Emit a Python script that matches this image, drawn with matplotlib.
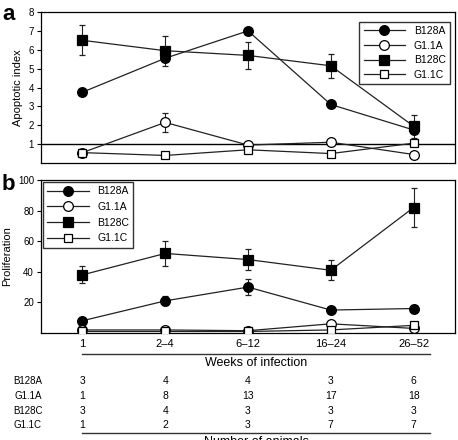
import matplotlib
matplotlib.use("Agg")
import matplotlib.pyplot as plt
from matplotlib.lines import Line2D
from matplotlib.transforms import blended_transform_factory

plt.rcParams['font.family'] = ['Liberation Sans', 'DejaVu Sans']

weeks = ["1", "2\u20134", "6\u201312", "16\u201324", "26\u201352"]
series = ["B128A", "G1.1A", "B128C", "G1.1C"]

# panel a: apoptotic index
apo = {
    "B128A": [3.75, 5.55, 7.0, 3.1, 1.75],
    "G1.1A": [0.55, 2.15, 0.95, 1.1, 0.45],
    "B128C": [6.5, 5.95, 5.7, 5.15, 1.95],
    "G1.1C": [0.55, 0.4, 0.7, 0.5, 1.05],
}
apo_err = {
    "B128A": [0, 0, 0, 0, 0],
    "G1.1A": [0, 0.5, 0, 0, 0],
    "B128C": [0.8, 0.8, 0.7, 0.65, 0.6],
    "G1.1C": [0, 0, 0, 0, 0],
}

# panel b: proliferation
prolif = {
    "B128A": [8, 21, 30, 15, 16],
    "G1.1A": [2, 2, 1.5, 6, 3],
    "B128C": [38, 52, 48, 41, 82],
    "G1.1C": [1, 1, 1, 2, 5],
}
prolif_err = {
    "B128A": [2, 3, 5, 1, 2],
    "G1.1A": [0, 0, 0, 0, 0],
    "B128C": [5.5, 8, 7, 6.5, 12.5],
    "G1.1C": [0, 0, 0, 0, 0],
}

# number of animals
animals = {
    "B128A": [3, 4, 4, 3, 6],
    "G1.1A": [1, 8, 13, 17, 18],
    "B128C": [3, 4, 3, 3, 3],
    "G1.1C": [1, 2, 3, 7, 7],
}

styles = {
    "B128A": dict(marker="o", mfc="black", ms=7),
    "G1.1A": dict(marker="o", mfc="white", ms=7),
    "B128C": dict(marker="s", mfc="black", ms=6.5),
    "G1.1C": dict(marker="s", mfc="white", ms=6),
}

W, H = 458, 440
fig = plt.figure(figsize=(W / 100, H / 100), dpi=100)

ax_a = fig.add_axes([41 / W, 1 - 163 / H, 414 / W, 151 / H])
ax_b = fig.add_axes([41 / W, 1 - 333 / H, 414 / W, 153 / H])

x = list(range(len(weeks)))


def draw(ax, data, err):
    handles = []
    for name in series:
        st = styles[name]
        ax.errorbar(x, data[name], yerr=err[name], color="#222222", lw=0.9,
                    elinewidth=0.8, capsize=2, capthick=0.8,
                    marker=st["marker"], mfc=st["mfc"], mec="black",
                    ms=st["ms"], mew=0.9, zorder=3)
        handles.append(Line2D([0], [0], color="#222222", lw=0.9,
                              marker=st["marker"], mfc=st["mfc"],
                              mec="black", ms=st["ms"], mew=0.9))
    return handles


h = draw(ax_a, apo, apo_err)
ax_a.axhline(1, color="black", lw=1, zorder=2)
ax_a.set_xlim(-0.5, 4.5)
ax_a.set_ylim(0, 8)
ax_a.set_yticks(range(1, 9))
ax_a.set_xticks([])
ax_a.tick_params(axis="y", labelsize=7, length=3, width=0.8, pad=2)
ax_a.set_ylabel("Apoptotic index", fontsize=8, labelpad=4)
ax_a.legend(h, series, loc="upper right", fontsize=7.5, handlelength=4,
            frameon=True, fancybox=False, edgecolor="black",
            borderaxespad=0.5, labelspacing=0.45, handletextpad=0.8,
            bbox_to_anchor=(1.0, 0.97))

h = draw(ax_b, prolif, prolif_err)
ax_b.set_xlim(-0.5, 4.5)
ax_b.set_ylim(0, 100)
ax_b.set_yticks(range(20, 101, 20))
ax_b.set_xticks(x)
ax_b.set_xticklabels(weeks)
ax_b.tick_params(axis="y", labelsize=7, length=3, width=0.8, pad=2)
ax_b.tick_params(axis="x", labelsize=8, length=0, pad=4)
ax_b.set_ylabel("Proliferation", fontsize=8, labelpad=4)
ax_b.legend(h, series, loc="upper left", fontsize=7.5, handlelength=4,
            frameon=True, fancybox=False, edgecolor="black",
            borderaxespad=0.2, labelspacing=0.55, handletextpad=0.8)

for ax in (ax_a, ax_b):
    for s in ax.spines.values():
        s.set_linewidth(0.9)

fig.text(2 / W, 1 - 14 / H, "a", fontsize=16, fontweight="bold", va="center")
fig.text(2 / W, 1 - 184 / H, "b", fontsize=16, fontweight="bold", va="center")

# table below panel b
fig.add_artist(Line2D([82 / W, 430 / W], [1 - 354 / H, 1 - 354 / H],
                      color="#333333", lw=1))
fig.text(256 / W, 1 - 363 / H, "Weeks of infection", fontsize=9,
         ha="center", va="center")

tr = blended_transform_factory(ax_b.transData, fig.transFigure)
row_y = [381, 396, 411, 425]
for name, ry in zip(series, row_y):
    fig.text(28 / W, 1 - ry / H, name, fontsize=7, ha="center", va="center")
    for xi, n in zip(x, animals[name]):
        fig.text(xi, 1 - ry / H, str(n), fontsize=7.5, ha="center",
                 va="center", transform=tr)

fig.add_artist(Line2D([82 / W, 430 / W], [1 - 433 / H, 1 - 433 / H],
                      color="#333333", lw=1))
fig.text(256 / W, 1 - 436 / H, "Number of animals", fontsize=9,
         ha="center", va="top")

fig.savefig("out.png", dpi=100)
